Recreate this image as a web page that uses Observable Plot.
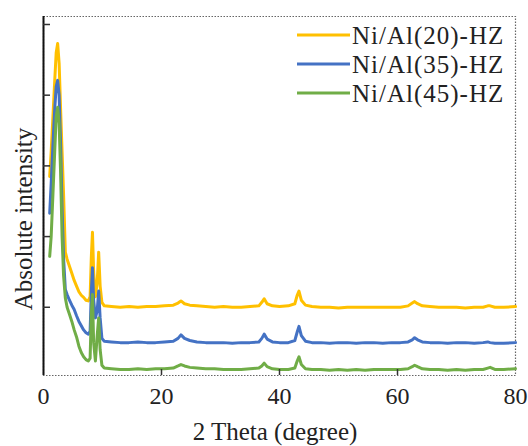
<!DOCTYPE html>
<html><head><meta charset="utf-8">
<script src="https://cdn.jsdelivr.net/npm/d3@7"></script>
<script src="https://cdn.jsdelivr.net/npm/@observablehq/plot@0.6"></script>
<style>body{margin:0;background:#fff}</style>
</head><body><div id="chart"></div>
<script>
const twoTheta = [1.05,1.3,1.6,1.9,2.15,2.4,2.65,2.9,3.15,3.4,3.7,4.0,4.4,4.8,5.2,5.6,6.0,6.4,6.8,7.2,7.6,7.9,8.1,8.3,8.5,8.8,9.1,9.35,9.6,9.9,10.3,11.5,13,14.5,16,17.5,19,20.5,22,22.8,23.3,23.9,24.8,26,27.5,29,30.5,32,33.5,35,36.5,37.0,37.4,37.9,38.8,40,41.5,42.6,43.0,43.3,43.7,44.4,45.5,47,48.5,50,51.5,53,54.5,56,57.5,59,60.5,61.8,62.5,62.9,63.4,64.2,65.5,67,68.5,70,71.5,73,74.5,75.3,75.7,76.5,78,80];
const niAl20 = [2.85,3.2,3.7,4.2,4.6,4.73,4.45,3.8,3.2,2.6,1.78,1.68,1.58,1.48,1.38,1.3,1.22,1.17,1.14,1.1,1.09,1.15,1.7,2.06,1.5,1.15,1.35,1.78,1.3,1.07,1.02,1.01,1.0,1.01,1.0,1.01,1.01,1.02,1.03,1.06,1.09,1.05,1.03,1.02,1.01,1.0,1.01,1.0,1.0,1.01,1.02,1.07,1.12,1.05,1.02,1.01,1.02,1.05,1.17,1.23,1.1,1.03,1.01,1.0,1.0,0.99,1.0,1.0,1.0,1.0,1.0,1.0,1.0,1.02,1.06,1.08,1.05,1.02,1.01,1.0,1.0,1.0,0.99,1.0,1.0,1.02,1.02,1.0,1.0,1.01];
const niAl35 = [2.33,2.75,3.3,3.8,4.12,4.21,4.0,3.3,2.4,1.7,1.25,1.18,1.1,1.03,0.97,0.88,0.8,0.74,0.68,0.64,0.62,0.66,1.2,1.56,1.1,0.85,0.95,1.23,0.85,0.56,0.52,0.51,0.5,0.5,0.51,0.5,0.5,0.51,0.52,0.56,0.61,0.56,0.53,0.51,0.5,0.5,0.5,0.49,0.5,0.5,0.51,0.56,0.62,0.55,0.51,0.5,0.5,0.53,0.65,0.73,0.6,0.52,0.5,0.5,0.49,0.5,0.5,0.49,0.5,0.5,0.49,0.5,0.5,0.51,0.54,0.57,0.54,0.51,0.5,0.5,0.49,0.5,0.5,0.49,0.5,0.51,0.5,0.49,0.49,0.5];
const niAl45 = [1.72,2.0,2.6,3.2,3.7,3.83,3.6,2.9,2.0,1.45,1.13,1.0,0.9,0.8,0.68,0.58,0.45,0.36,0.3,0.26,0.24,0.28,0.9,1.18,0.5,0.24,0.6,0.85,0.4,0.18,0.14,0.13,0.12,0.12,0.13,0.12,0.13,0.13,0.14,0.17,0.19,0.17,0.15,0.14,0.13,0.13,0.12,0.12,0.12,0.13,0.14,0.17,0.21,0.16,0.13,0.12,0.12,0.14,0.24,0.3,0.19,0.13,0.12,0.12,0.11,0.12,0.11,0.12,0.11,0.12,0.12,0.12,0.12,0.13,0.16,0.18,0.16,0.13,0.12,0.12,0.11,0.12,0.11,0.12,0.12,0.14,0.15,0.12,0.12,0.13];
const seriesNames = ["Ni/Al(20)-HZ","Ni/Al(35)-HZ","Ni/Al(45)-HZ"];
const seriesColors = ["#FFC000","#4472C4","#70AD47"];
const xTicks = [0,20,40,60,80];
const yTicks = [1,2,3,4,5];
const xLabel = "2 Theta (degree)";
const yLabel = "Absolute intensity";

const seriesValues = [niAl20, niAl35, niAl45];
const rows = [];
seriesNames.forEach((name, i) => {
  twoTheta.forEach((x, j) => rows.push({series: name, x, y: seriesValues[i][j]}));
});

const W = 528, H = 446, mL = 43, mR = 13, mT = 16, mB = 71;
const frameW = W - mL - mR, frameH = H - mT - mB;
const font = "Liberation Serif";

const chart = Plot.plot({
  width: W, height: H,
  marginLeft: mL, marginRight: mR, marginTop: mT, marginBottom: mB,
  style: {background: "#fff", fontFamily: font},
  x: {domain: [0, 80], axis: null},
  y: {domain: [0.035, 5.113], axis: null},
  color: {domain: seriesNames, range: seriesColors},
  marks: [
    Plot.frame({stroke: "#666", strokeDasharray: "1.5,1.5", strokeWidth: 1.2}),
    Plot.line(rows, {x: "x", y: "y", z: "series", stroke: "series", strokeWidth: 3, strokeLinejoin: "round"}),
    Plot.ruleX([0], {stroke: "#111", strokeWidth: 2}),
    Plot.tickX(xTicks.slice(1, -1), {x: d => d, insetTop: frameH - 6, stroke: "#333", strokeWidth: 1.5}),
    Plot.tickY(yTicks, {y: d => d, insetRight: frameW - 7, stroke: "#333", strokeWidth: 1.5}),
    Plot.text(xTicks, {x: d => d, frameAnchor: "bottom", dy: 28, text: d => String(d), fontSize: 24, fontFamily: font, fill: "#222"})
  ]
});
document.getElementById("chart").append(chart);

const svg = d3.select(chart);
svg.append("text").attr("x", 275).attr("y", 431).attr("text-anchor", "middle")
  .attr("dominant-baseline", "central").attr("font-size", 25).attr("font-family", font).attr("fill", "#222").text(xLabel);
svg.append("text").attr("transform", "translate(23,219) rotate(-90)").attr("text-anchor", "middle")
  .attr("dominant-baseline", "central").attr("font-size", 25).attr("font-family", font).attr("fill", "#222").text(yLabel);

const leg = svg.append("g");
seriesNames.forEach((name, i) => {
  const cy = 35 + i * 29;
  leg.append("line").attr("x1", 297).attr("x2", 350).attr("y1", cy).attr("y2", cy)
    .attr("stroke", seriesColors[i]).attr("stroke-width", 3);
  leg.append("text").attr("x", 352).attr("y", cy).attr("text-anchor", "start").attr("dominant-baseline", "central")
    .attr("font-size", 25).attr("letter-spacing", 1).attr("font-family", font).attr("fill", "#222").text(name);
});
</script></body></html>
